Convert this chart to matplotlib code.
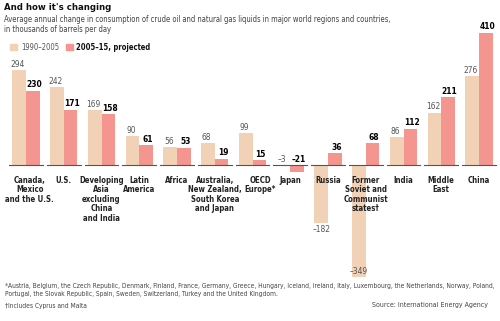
import matplotlib
matplotlib.use('Agg')
import matplotlib.pyplot as plt
from matplotlib.patches import Rectangle

plt.rcParams['font.family'] = ['DejaVu Sans']
plt.rcParams['font.stretch'] = 'condensed'

# data
regions = ['Canada,\nMexico\nand the U.S.', 'U.S.', 'Developing\nAsia\nexcluding\nChina\nand India',
           'Latin\nAmerica', 'Africa', 'Australia,\nNew Zealand,\nSouth Korea\nand Japan',
           'OECD\nEurope*', 'Japan', 'Russia', 'Former\nSoviet and\nCommunist\nstates\u2020',
           'India', 'Middle\nEast', 'China']
past = [294, 242, 169, 90, 56, 68, 99, -3, -182, -349, 86, 162, 276]
projected = [230, 171, 158, 61, 53, 19, 15, -21, 36, 68, 112, 211, 410]

beige = '#F2D2B6'
pink = '#F4958F'

fig = plt.figure(figsize=(5.0, 3.21), dpi=100)
ax = fig.add_axes([0, 0.065, 1, 0.853])
ax.set_xlim(-0.689, 12.556)
ax.set_ylim(-420, 430)
ax.axis('off')


def fmt(v):
    return str(v).replace('-', '\u2013')


w = 0.36
for i, (p, q) in enumerate(zip(past, projected)):
    ax.bar(i - w / 2, p, width=w, color=beige, zorder=2)
    ax.bar(i + w / 2, q, width=w, color=pink, zorder=2)
    ax.plot([i - 0.45, i + 0.45], [0, 0], color='#555555', lw=0.8, zorder=3)
    # value labels
    if p > -10:
        ax.text(i - w / 2 - 0.04, max(p, 0) + 4, fmt(p), ha='center', va='bottom',
                fontsize=6, color='#555555', zorder=4)
    elif p > -300:
        ax.text(i - w / 2, p - 4, fmt(p), ha='center', va='top',
                fontsize=6, color='#555555', zorder=4)
    else:
        ax.text(i - w / 2, p + 3, fmt(p), ha='center', va='bottom',
                fontsize=6, color='#555555', zorder=4)
    if q > -30:
        ax.text(i + w / 2 + 0.04, max(q, 0) + 4, fmt(q), ha='center', va='bottom',
                fontsize=6, color='black', fontweight='bold', zorder=4)
    # category label (nudge a couple so they don't collide)
    dx = {0: 0.1, 6: 0.2}.get(i, 0)
    ax.text(i + dx, -35, regions[i], ha='center', va='top', fontsize=5.6, color='#222222',
            fontweight='bold', linespacing=1.05, zorder=5)

# titles
fig.text(0.008, 0.99, "And how it's changing", fontsize=6.8, fontweight='bold', va='top', color='#111111')
fig.text(0.008, 0.953, 'Average annual change in consumption of crude oil and natural gas liquids in major world regions and countries,\n'
         'in thousands of barrels per day', fontsize=5.5, va='top', color='#444444', linespacing=1.2)

# legend
fig.patches.append(Rectangle((0.02, 0.843), 0.014, 0.02, transform=fig.transFigure, color=beige))
fig.text(0.042, 0.853, '1990\u20132005', fontsize=5.5, va='center', color='#555555')
fig.patches.append(Rectangle((0.132, 0.843), 0.014, 0.02, transform=fig.transFigure, color=pink))
fig.text(0.152, 0.853, '2005\u201315, projected', fontsize=5.5, va='center', color='#111111', fontweight='bold')

# footnotes
fig.text(0.01, 0.118, '*Austria, Belgium, the Czech Republic, Denmark, Finland, France, Germany, Greece, Hungary, Iceland, Ireland, Italy, Luxembourg, the Netherlands, Norway, Poland,\n'
         'Portugal, the Slovak Republic, Spain, Sweden, Switzerland, Turkey and the United Kingdom.',
         fontsize=4.8, va='top', color='#444444', linespacing=1.3)
fig.text(0.01, 0.055, '\u2020Includes Cyprus and Malta', fontsize=4.8, va='top', color='#444444')
fig.text(0.975, 0.06, 'Source: International Energy Agency', fontsize=5, va='top', ha='right', color='#444444')

fig.savefig('out.png', dpi=100)
